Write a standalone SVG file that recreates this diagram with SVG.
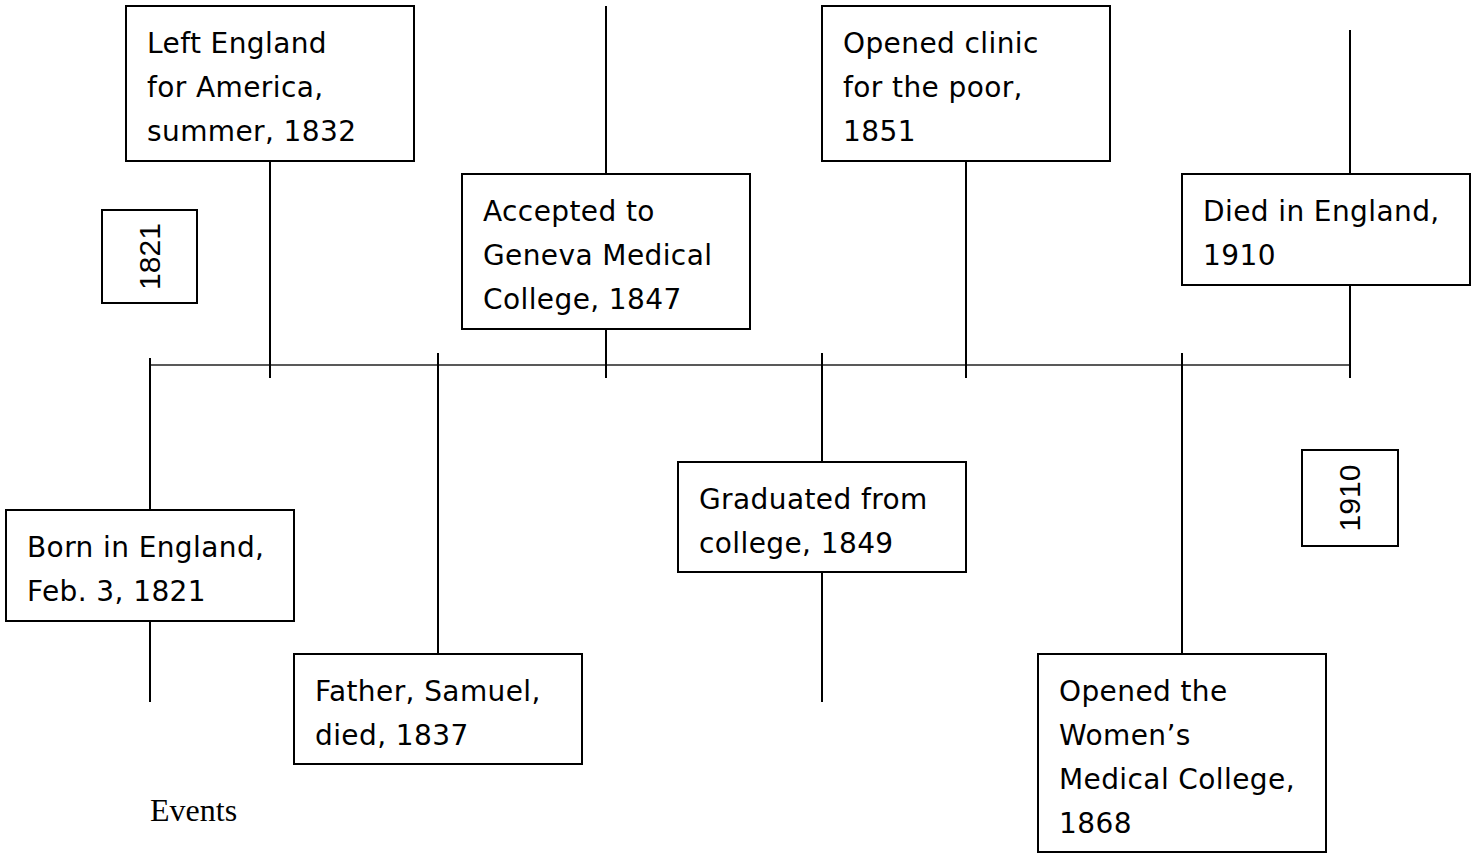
<svg xmlns="http://www.w3.org/2000/svg" width="1476" height="854" viewBox="0 0 1476 854">
<style>
.box{fill:#fff;stroke:#000;stroke-width:2}
.t{font-family:"DejaVu Sans",Verdana,sans-serif;font-size:28px;letter-spacing:0.4px;fill:#000}
.r{font-family:"Liberation Sans",Arial,sans-serif;font-size:30px;fill:#000;text-anchor:middle}
.v{stroke:#000;stroke-width:2;fill:none}
.h{stroke:#222;stroke-width:1.5;fill:none}
</style>
<rect width="1476" height="854" fill="#fff"/>
<g id="connectors">
<line class="h" x1="150" y1="365" x2="1350" y2="365"/>
<line class="v" x1="150" y1="358" x2="150" y2="702"/>
<line class="v" x1="270" y1="160" x2="270" y2="378"/>
<line class="v" x1="438" y1="353" x2="438" y2="654"/>
<line class="v" x1="606" y1="6" x2="606" y2="378"/>
<line class="v" x1="822" y1="353" x2="822" y2="702"/>
<line class="v" x1="966" y1="161" x2="966" y2="378"/>
<line class="v" x1="1182" y1="353" x2="1182" y2="654"/>
<line class="v" x1="1350" y1="30" x2="1350" y2="378"/>
</g>
<g id="left-england">
<rect class="box" x="126" y="6" width="288" height="155"/>
<text class="t" x="147" y="53">Left England</text>
<text class="t" x="147" y="97">for America,</text>
<text class="t" x="147" y="141">summer, 1832</text>
</g>
<g id="accepted">
<rect class="box" x="462" y="174" width="288" height="155"/>
<text class="t" x="483" y="221">Accepted to</text>
<text class="t" x="483" y="265">Geneva Medical</text>
<text class="t" x="483" y="309">College, 1847</text>
</g>
<g id="clinic">
<rect class="box" x="822" y="6" width="288" height="155"/>
<text class="t" x="843" y="53">Opened clinic</text>
<text class="t" x="843" y="97">for the poor,</text>
<text class="t" x="843" y="141">1851</text>
</g>
<g id="died">
<rect class="box" x="1182" y="174" width="288" height="111"/>
<text class="t" x="1203" y="221">Died in England,</text>
<text class="t" x="1203" y="265">1910</text>
</g>
<g id="born">
<rect class="box" x="6" y="510" width="288" height="111"/>
<text class="t" x="27" y="557">Born in England,</text>
<text class="t" x="27" y="601">Feb. 3, 1821</text>
</g>
<g id="father">
<rect class="box" x="294" y="654" width="288" height="110"/>
<text class="t" x="315" y="701">Father, Samuel,</text>
<text class="t" x="315" y="745">died, 1837</text>
</g>
<g id="graduated">
<rect class="box" x="678" y="462" width="288" height="110"/>
<text class="t" x="699" y="509">Graduated from</text>
<text class="t" x="699" y="553">college, 1849</text>
</g>
<g id="womens">
<rect class="box" x="1038" y="654" width="288" height="198"/>
<text class="t" x="1059" y="701">Opened the</text>
<text class="t" x="1059" y="745">Women’s</text>
<text class="t" x="1059" y="789">Medical College,</text>
<text class="t" x="1059" y="833">1868</text>
</g>
<g id="year-1821">
<rect class="box" x="102" y="210" width="95" height="93"/>
<text class="r" transform="translate(160,256.5) rotate(-90)">1821</text>
</g>
<g id="year-1910">
<rect class="box" x="1302" y="450" width="96" height="96"/>
<text class="r" transform="translate(1360,498) rotate(-90)">1910</text>
</g>
<g id="events-label">
<text x="150" y="821" font-family="Liberation Serif,Times New Roman,serif" font-size="32" fill="#000">Events</text>
</g>
</svg>
